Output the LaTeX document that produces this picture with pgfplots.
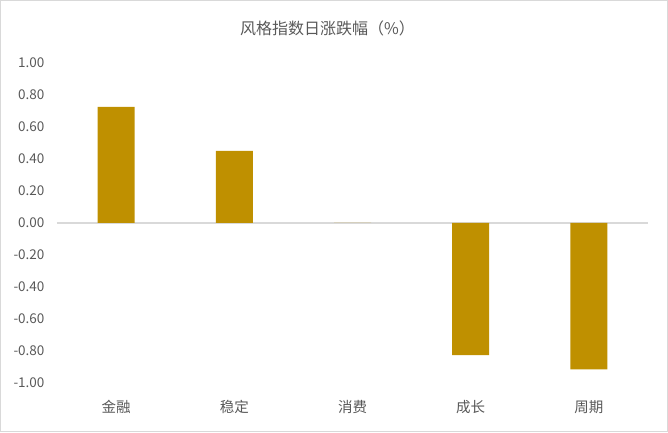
\documentclass[border=0pt]{standalone}
\usepackage{pgfplots}
\pgfplotsset{compat=1.18}
\usepackage{fontspec}
\setmainfont{Noto Sans CJK SC}
\definecolor{barc}{HTML}{BF9000}
\definecolor{txt}{HTML}{595959}
\definecolor{frame}{HTML}{D9D9D9}
\begin{document}
\begin{tikzpicture}
\begin{axis}[
  scale only axis, width=591pt, height=320pt,
  clip=false,
  ymin=-1, ymax=1, xmin=-0.5, xmax=4.5,
  ytick={-1,-0.8,...,1.01},
  /pgf/number format/fixed, /pgf/number format/fixed zerofill, /pgf/number format/precision=2,
  /pgf/number format/assume math mode=true,
  yticklabel style={font=\fontsize{13.5}{15}\selectfont, text=txt, xshift=-9pt},
  xtick={0,1,2,3,4},
  xticklabels={金融,稳定,消费,成长,周期},
  xticklabel style={font=\fontsize{14.5}{16}\selectfont, text=txt, yshift=-14pt},
  axis line style={draw=none},
  major tick length=0pt,
  extra y ticks={0}, extra y tick labels={},
  extra y tick style={grid=major, grid style={frame, line width=1.2pt}},
  ybar, bar width=37pt,
]
\addplot[fill=barc, draw=none] coordinates {(0,0.725) (1,0.45) (2,0.0) (3,-0.825) (4,-0.915)};
\draw[frame, line width=1pt] (rel axis cs:-0.09560,-0.15156) rectangle (rel axis cs:1.03299,1.19531);
\node[txt, font=\fontsize{16}{18}\selectfont] at (rel axis cs:0.4577,1.109) {风格指数日涨跌幅（\%）};
\end{axis}
\end{tikzpicture}
\end{document}
